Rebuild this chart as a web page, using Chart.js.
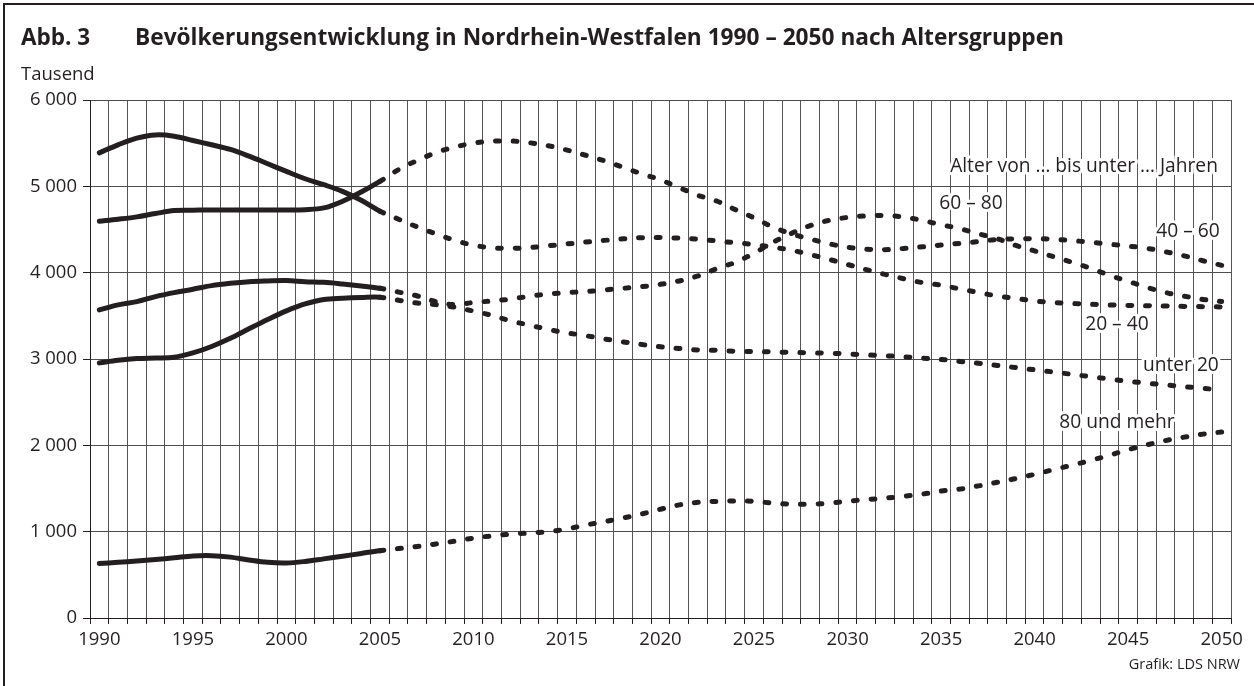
<!DOCTYPE html>
<html lang="de">
<head>
<meta charset="utf-8">
<script src="https://cdn.jsdelivr.net/npm/chart.js@4/dist/chart.umd.min.js"></script>
<style>
  html, body { margin: 0; padding: 0; background: #fff; }
  body { width: 1254px; height: 686px; position: relative; overflow: hidden; font-family: "Open Sans", "Noto Sans", sans-serif; color: #231f20; }
  #frame { position: absolute; left: 3px; top: 3px; width: 1300px; height: 720px; border-top: 2px solid #231f20; border-left: 2px solid #231f20; }
  #abb { position: absolute; left: 21px; top: 26px; font-size: 22.5px; line-height: 22.5px; font-weight: 700; white-space: nowrap; }
  #title { position: absolute; left: 135px; top: 26px; font-size: 22.7px; line-height: 22.7px; font-weight: 700; white-space: nowrap; }
  #unit { position: absolute; left: 21px; top: 64px; font-size: 18.5px; line-height: 18.5px; white-space: nowrap; }
  #source { position: absolute; right: 14px; top: 657px; font-size: 14.5px; line-height: 14.5px; white-space: nowrap; }
  #wrap { position: absolute; left: 0; top: 0; width: 1254px; height: 686px; }
</style>
</head>
<body>
<div id="frame"></div>
<div id="wrap"><canvas id="c" width="1254" height="686"></canvas></div>
<div id="abb">Abb. 3</div>
<div id="title">Bevölkerungsentwicklung in Nordrhein-Westfalen 1990 – 2050 nach Altersgruppen</div>
<div id="unit">Tausend</div>
<div id="source">Grafik: LDS NRW</div>
<script>
// ---- data (Tausend) ----
const years = ['1990','1991','1992','1993','1994','1995','1996','1997','1998','1999',
  '2000','2001','2002','2003','2004','2005','2006','2007','2008','2009',
  '2010','2011','2012','2013','2014','2015','2016','2017','2018','2019',
  '2020','2021','2022','2023','2024','2025','2026','2027','2028','2029',
  '2030','2031','2032','2033','2034','2035','2036','2037','2038','2039',
  '2040','2041','2042','2043','2044','2045','2046','2047','2048','2049','2050'];

const unter20 = [
  2955, 2985, 3005, 3012, 3020, 3070, 3145, 3240, 3350, 3458,
  3558, 3638, 3690, 3704, 3712, 3715, 3680, 3648, 3630, 3600,
  3555, 3504, 3440, 3392, 3343, 3302, 3270, 3232, 3198, 3168,
  3142, 3122, 3105, 3100, 3090, 3085, 3083, 3076, 3072, 3067,
  3058, 3048, 3038, 3026, 3010, 2995, 2972, 2950, 2925, 2900,
  2875, 2850, 2822, 2795, 2768, 2742, 2720, 2700, 2680, 2660,
  2642];

const alter20bis40 = [
  5388, 5481, 5558, 5596, 5581, 5531, 5481, 5427, 5350, 5262,
  5173, 5088, 5019, 4942, 4838, 4712, 4619, 4530, 4450, 4375,
  4318, 4288, 4282, 4290, 4312, 4333, 4355, 4374, 4392, 4405,
  4407, 4400, 4388, 4368, 4347, 4325, 4295, 4260, 4210, 4155,
  4095, 4035, 3980, 3930, 3885, 3855, 3812, 3770, 3730, 3702,
  3672, 3655, 3643, 3634, 3626, 3621, 3617, 3613, 3609, 3606,
  3603];

const alter40bis60 = [
  4596, 4619, 4646, 4685, 4719, 4723, 4727, 4727, 4727, 4727,
  4727, 4730, 4750, 4827, 4935, 5058, 5195, 5300, 5390, 5455,
  5500, 5522, 5525, 5505, 5470, 5420, 5360, 5295, 5220, 5145,
  5075, 4985, 4896, 4830, 4730, 4635, 4530, 4450, 4390, 4335,
  4295, 4272, 4266, 4280, 4300, 4320, 4340, 4360, 4385, 4392,
  4394, 4387, 4372, 4352, 4330, 4308, 4282, 4242, 4195, 4138,
  4085];

const alter60bis80 = [
  3569, 3627, 3665, 3723, 3769, 3808, 3850, 3877, 3896, 3904,
  3908, 3896, 3888, 3869, 3846, 3819, 3775, 3730, 3665, 3630,
  3655, 3672, 3695, 3727, 3752, 3769, 3781, 3800, 3819, 3838,
  3865, 3904, 3962, 4045, 4120, 4225, 4350, 4455, 4545, 4605,
  4640, 4657, 4662, 4645, 4605, 4555, 4510, 4450, 4393, 4315,
  4252, 4186, 4120, 4050, 3970, 3900, 3830, 3770, 3728, 3690,
  3665];

const alter80plus = [
  630, 645, 660, 678, 697, 718, 722, 705, 672, 645,
  637, 655, 685, 715, 748, 780, 805, 828, 858, 890,
  925, 952, 972, 985, 1000, 1031, 1077, 1116, 1158, 1205,
  1260, 1310, 1340, 1351, 1355, 1352, 1330, 1318, 1318, 1330,
  1352, 1372, 1388, 1411, 1435, 1470, 1493, 1530, 1572, 1616,
  1664, 1718, 1770, 1825, 1885, 1950, 2005, 2055, 2095, 2130,
  2155];

const seriesNames = ['unter 20', '20 – 40', '40 – 60', '60 – 80', '80 und mehr'];
const lastObservedYear = '2005';
const yTicks = [0, 1000, 2000, 3000, 4000, 5000, 6000];
const xLabelYears = ['1990','1995','2000','2005','2010','2015','2020','2025','2030','2035','2040','2045','2050'];

// labels placed in data space
const labelTexts = ['Alter von … bis unter … Jahren', '60 – 80', '40 – 60', '20 – 40', 'unter 20', '80 und mehr'];
const labelYears = [2049.8, 2036.6, 2049.9, 2044.4, 2049.85, 2044.4];
const labelValues = [5226, 4797, 4473, 3395, 2920, 2260];
const labelAligns = ['right', 'center', 'right', 'center', 'right', 'center'];

// ---- chart ----
const INK = '#231f20';
const FONT = '"Open Sans", "Noto Sans", sans-serif';
const cutIndex = years.indexOf(lastObservedYear);
const DASH = [3.8, 13.9];

function mkDataset(name, values) {
  return {
    label: name,
    data: values,
    borderColor: INK,
    borderWidth: 5,
    borderCapStyle: 'round',
    borderJoinStyle: 'round',
    pointRadius: 0,
    pointHoverRadius: 0,
    tension: 0.35,
    fill: false,
    segment: {
      borderDash: ctx => ctx.p0DataIndex >= cutIndex ? DASH : undefined
    }
  };
}

const labelPlugin = {
  id: 'seriesLabels',
  afterDatasetsDraw(chart) {
    const ctx = chart.ctx;
    const xs = chart.scales.x, ys = chart.scales.y;
    ctx.save();
    ctx.font = '19.2px ' + FONT;
    ctx.textBaseline = 'middle';
    ctx.lineJoin = 'round';
    labelTexts.forEach((t, i) => {
      const x = xs.getPixelForValue(labelYears[i] - Number(years[0]));
      const y = ys.getPixelForValue(labelValues[i]);
      ctx.textAlign = labelAligns[i];
      ctx.strokeStyle = '#ffffff';
      ctx.lineWidth = 6;
      ctx.strokeText(t, x, y);
      ctx.fillStyle = INK;
      ctx.fillText(t, x, y);
    });
    ctx.restore();
  }
};

new Chart(document.getElementById('c'), {
  type: 'line',
  data: {
    labels: years,
    datasets: [
      mkDataset(seriesNames[0], unter20),
      mkDataset(seriesNames[1], alter20bis40),
      mkDataset(seriesNames[2], alter40bis60),
      mkDataset(seriesNames[3], alter60bis80),
      mkDataset(seriesNames[4], alter80plus)
    ]
  },
  options: {
    responsive: false,
    animation: false,
    devicePixelRatio: 1,
    layout: { padding: { left: 0, top: 100, right: 23, bottom: 0 } },
    plugins: { legend: { display: false }, tooltip: { enabled: false }, title: { display: false } },
    events: [],
    scales: {
      x: {
        type: 'category',
        offset: true,
        grid: { offset: true, color: '#555555', lineWidth: 1, tickLength: 6, tickColor: '#231f20', drawOnChartArea: true },
        border: { color: '#231f20', width: 1 },
        ticks: {
          autoSkip: false,
          maxRotation: 0,
          padding: 5,
          color: INK,
          font: { family: FONT, size: 18.5 },
          callback: function(v) { const y = this.getLabelForValue(v); return xLabelYears.includes(y) ? y : ''; }
        },
        afterFit: s => { s.height = 68; }
      },
      y: {
        min: yTicks[0],
        max: yTicks[yTicks.length - 1],
        afterBuildTicks: s => { s.ticks = yTicks.map(v => ({ value: v })); },
        grid: { color: '#4d4d4d', lineWidth: 1, tickLength: 7, tickColor: '#231f20' },
        border: { color: '#231f20', width: 1 },
        ticks: {
          padding: 6,
          color: INK,
          font: { family: FONT, size: 18.5 },
          callback: v => v === 0 ? '0' : (v / 1000) + ' 000'
        },
        afterFit: s => { s.width = 90; }
      }
    }
  },
  plugins: [labelPlugin]
});
</script>
</body>
</html>
